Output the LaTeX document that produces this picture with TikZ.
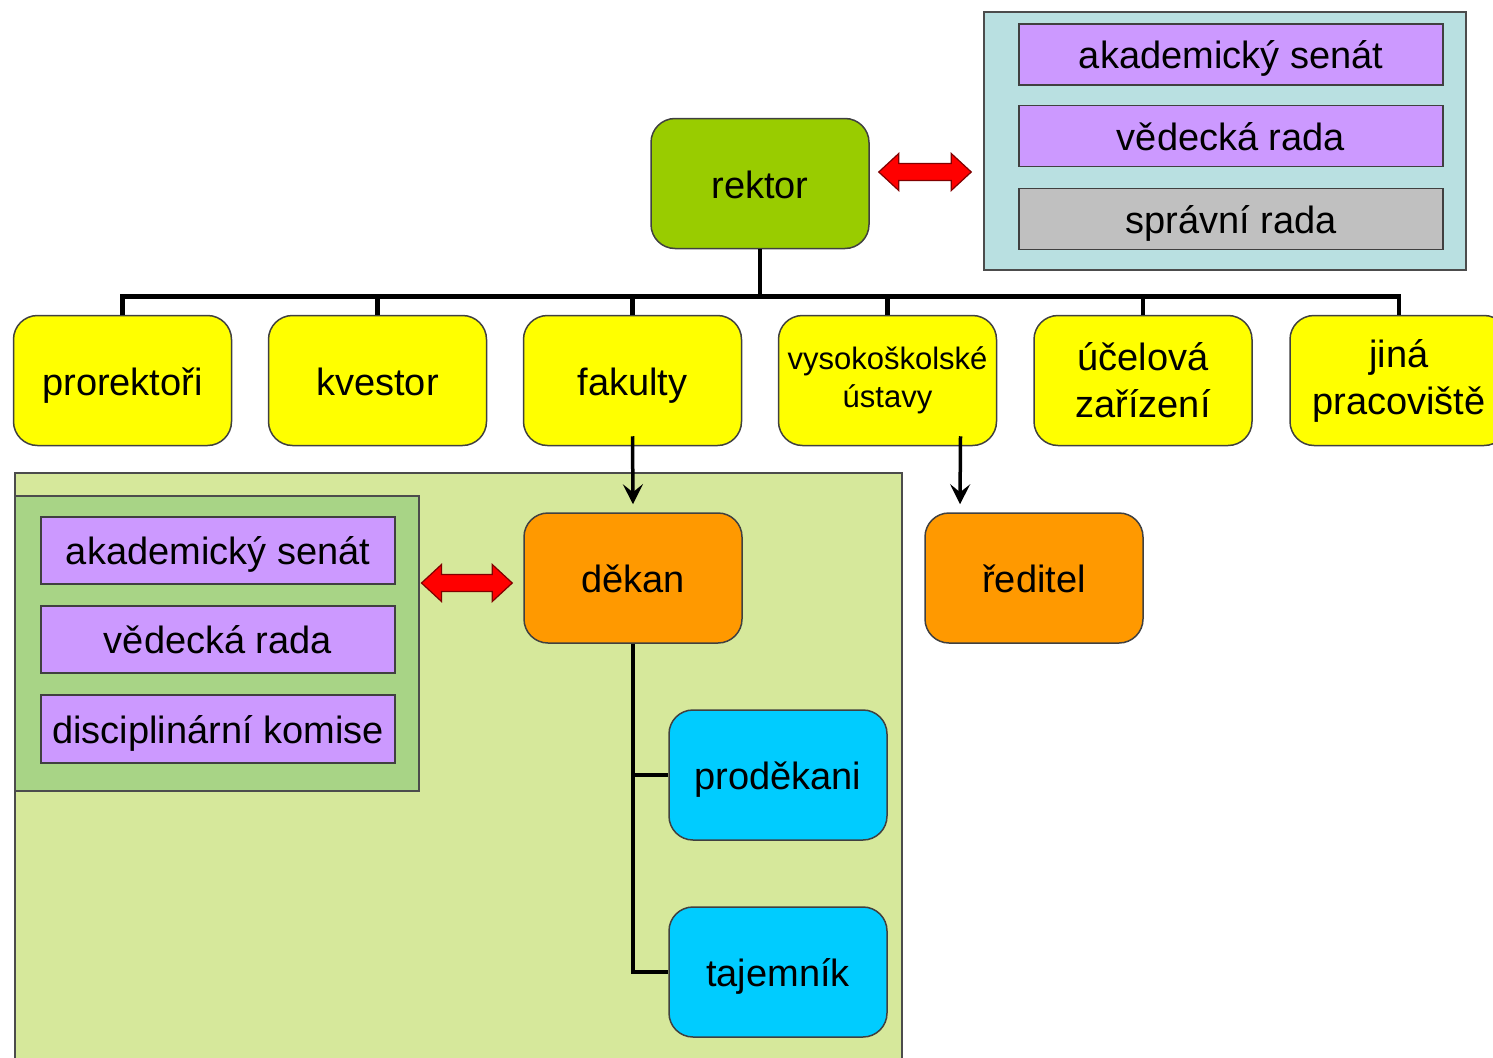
\documentclass[tikz,border=0pt]{standalone}
\usepackage{fontspec}
\setmainfont{Liberation Sans}
\usetikzlibrary{arrows.meta,positioning,calc}

\definecolor{headgreen}{HTML}{99CC00}
\definecolor{unityellow}{HTML}{FFFF00}
\definecolor{deanorange}{HTML}{FF9900}
\definecolor{staffcyan}{HTML}{00CCFF}
\definecolor{bodyviolet}{HTML}{CC99FF}
\definecolor{boardgray}{HTML}{C0C0C0}
\definecolor{councilblue}{HTML}{B9E0E1}
\definecolor{facultygreen}{HTML}{D6E89B}
\definecolor{fcouncilgreen}{HTML}{A8D486}

% red block arrow, both ends; the y of the first point is kept
\newcommand{\dblarrow}[2]{%
  \draw[redarrow] let \p1=(#1), \p2=(#2) in
    (\x1,\y1) -- ({\x1+20pt},{\y1+18.5pt}) -- ({\x1+20pt},{\y1+8.5pt})
    -- ({\x2-20pt},{\y1+8.5pt}) -- ({\x2-20pt},{\y1+18.5pt}) -- (\x2,\y1)
    -- ({\x2-20pt},{\y1-18.5pt}) -- ({\x2-20pt},{\y1-8.5pt})
    -- ({\x1+20pt},{\y1-8.5pt}) -- ({\x1+20pt},{\y1-18.5pt}) -- cycle;}

\begin{document}
\begin{tikzpicture}[x=1pt,y=-1pt,
  every node/.style={font=\fontsize{38}{47}\selectfont},
  unit/.style={draw=black!75,line width=1.5pt,rounded corners=24pt,
    minimum width=218pt,minimum height=130pt,align=center,inner sep=2pt,
    text height=32pt,text depth=3pt},
  twoline/.style={text height=,text depth=},
  body/.style 2 args={draw=black!75,line width=1.5pt,minimum width=#1,minimum height=#2,
    text height=31pt,text depth=3pt},
  panel/.style={draw=black!70,line width=1.5pt,inner sep=0pt},
  tree/.style={line width=4.5pt},
  arr/.style={line width=3.5pt,-{Stealth[length=20pt,width=20pt,inset=8pt]}},
  redarrow/.style={fill=red,draw=red!50!black,line width=1.2pt}]
\useasboundingbox (0,0) rectangle (1493,1057);

% faculty level
\node[panel,fill=facultygreen,anchor=north west,minimum width=887pt,minimum height=600pt] (faculty) at (14,472) {};
\node[panel,fill=fcouncilgreen,anchor=north west,minimum width=404pt,minimum height=295pt] (fcouncil) at (14,495) {};
\node[body={354pt}{67pt},fill=bodyviolet] (fsenat) at (218,550.5) {akademický senát};
\node[body={354pt}{67pt},fill=bodyviolet] (fvrada) at (218,639.5) {vědecká rada};
\node[body={354pt}{68pt},fill=bodyviolet] (komise) at (218,729) {disciplinární komise};

% university councils
\node[panel,fill=councilblue,minimum width=482pt,minimum height=258pt] (council) at (1225,141) {};
\node[body={424pt}{61pt},fill=bodyviolet] (senat) at (1231,54.5) {akademický senát};
\node[body={424pt}{61pt},fill=bodyviolet] (vrada) at (1231,136) {vědecká rada};
\node[body={424pt}{61pt},fill=boardgray] (srada) at (1231,219) {správní rada};

\node[unit,fill=headgreen] (rektor) at (760,183.5) {rektor};

% units under the rector
\node[unit,fill=unityellow] (prorektori) at (122.5,380.5) {prorektoři};
\node[unit,fill=unityellow] (kvestor) at (377.5,380.5) {kvestor};
\node[unit,fill=unityellow] (fakulty) at (632.5,380.5) {fakulty};
\node[unit,twoline,fill=unityellow,font=\fontsize{31}{38}\selectfont] (ustavy) at (887.5,380.5) {vysokoškolské\\ústavy};
\node[unit,twoline,fill=unityellow] (zarizeni) at (1143,380.5) {účelová\\zařízení};
\node[unit,twoline,fill=unityellow] (pracoviste) at (1399,380.5) {jiná\\pracoviště};

\node[unit,fill=deanorange] (dekan) at (633,578) {děkan};
\node[unit,fill=deanorange] (reditel) at (1034,578) {ředitel};
\node[unit,fill=staffcyan] (prodekani) at (778,775) {proděkani};
\node[unit,fill=staffcyan] (tajemnik) at (778,972) {tajemník};

% connections
\draw[tree] (rektor.south) -- ++(0,47) coordinate (bus);
\draw[tree] (prorektori.north) |- (bus) -| (pracoviste.north);
\foreach \u in {kvestor,fakulty,ustavy,zarizeni}
  \draw[tree] (bus -| \u.north) -- (\u.north);
\draw[tree] (dekan.south) |- (tajemnik.west);
\draw[tree] (dekan.south |- prodekani.west) -- (prodekani.west);

\draw[arr] ([yshift=10pt]fakulty.south) -- ([yshift=8pt]dekan.north);
\draw[arr] ([shift={(73,-10)}]ustavy.south) -- ([shift={(-74,-8)}]reditel.north);

\dblarrow{$(rektor.east)+(9,-11.5)$}{$(council.west)+(-12,0)$}
\dblarrow{$(fcouncil.east |- dekan.west)+(2,5)$}{$(dekan.west)+(-11,0)$}
\end{tikzpicture}
\end{document}
